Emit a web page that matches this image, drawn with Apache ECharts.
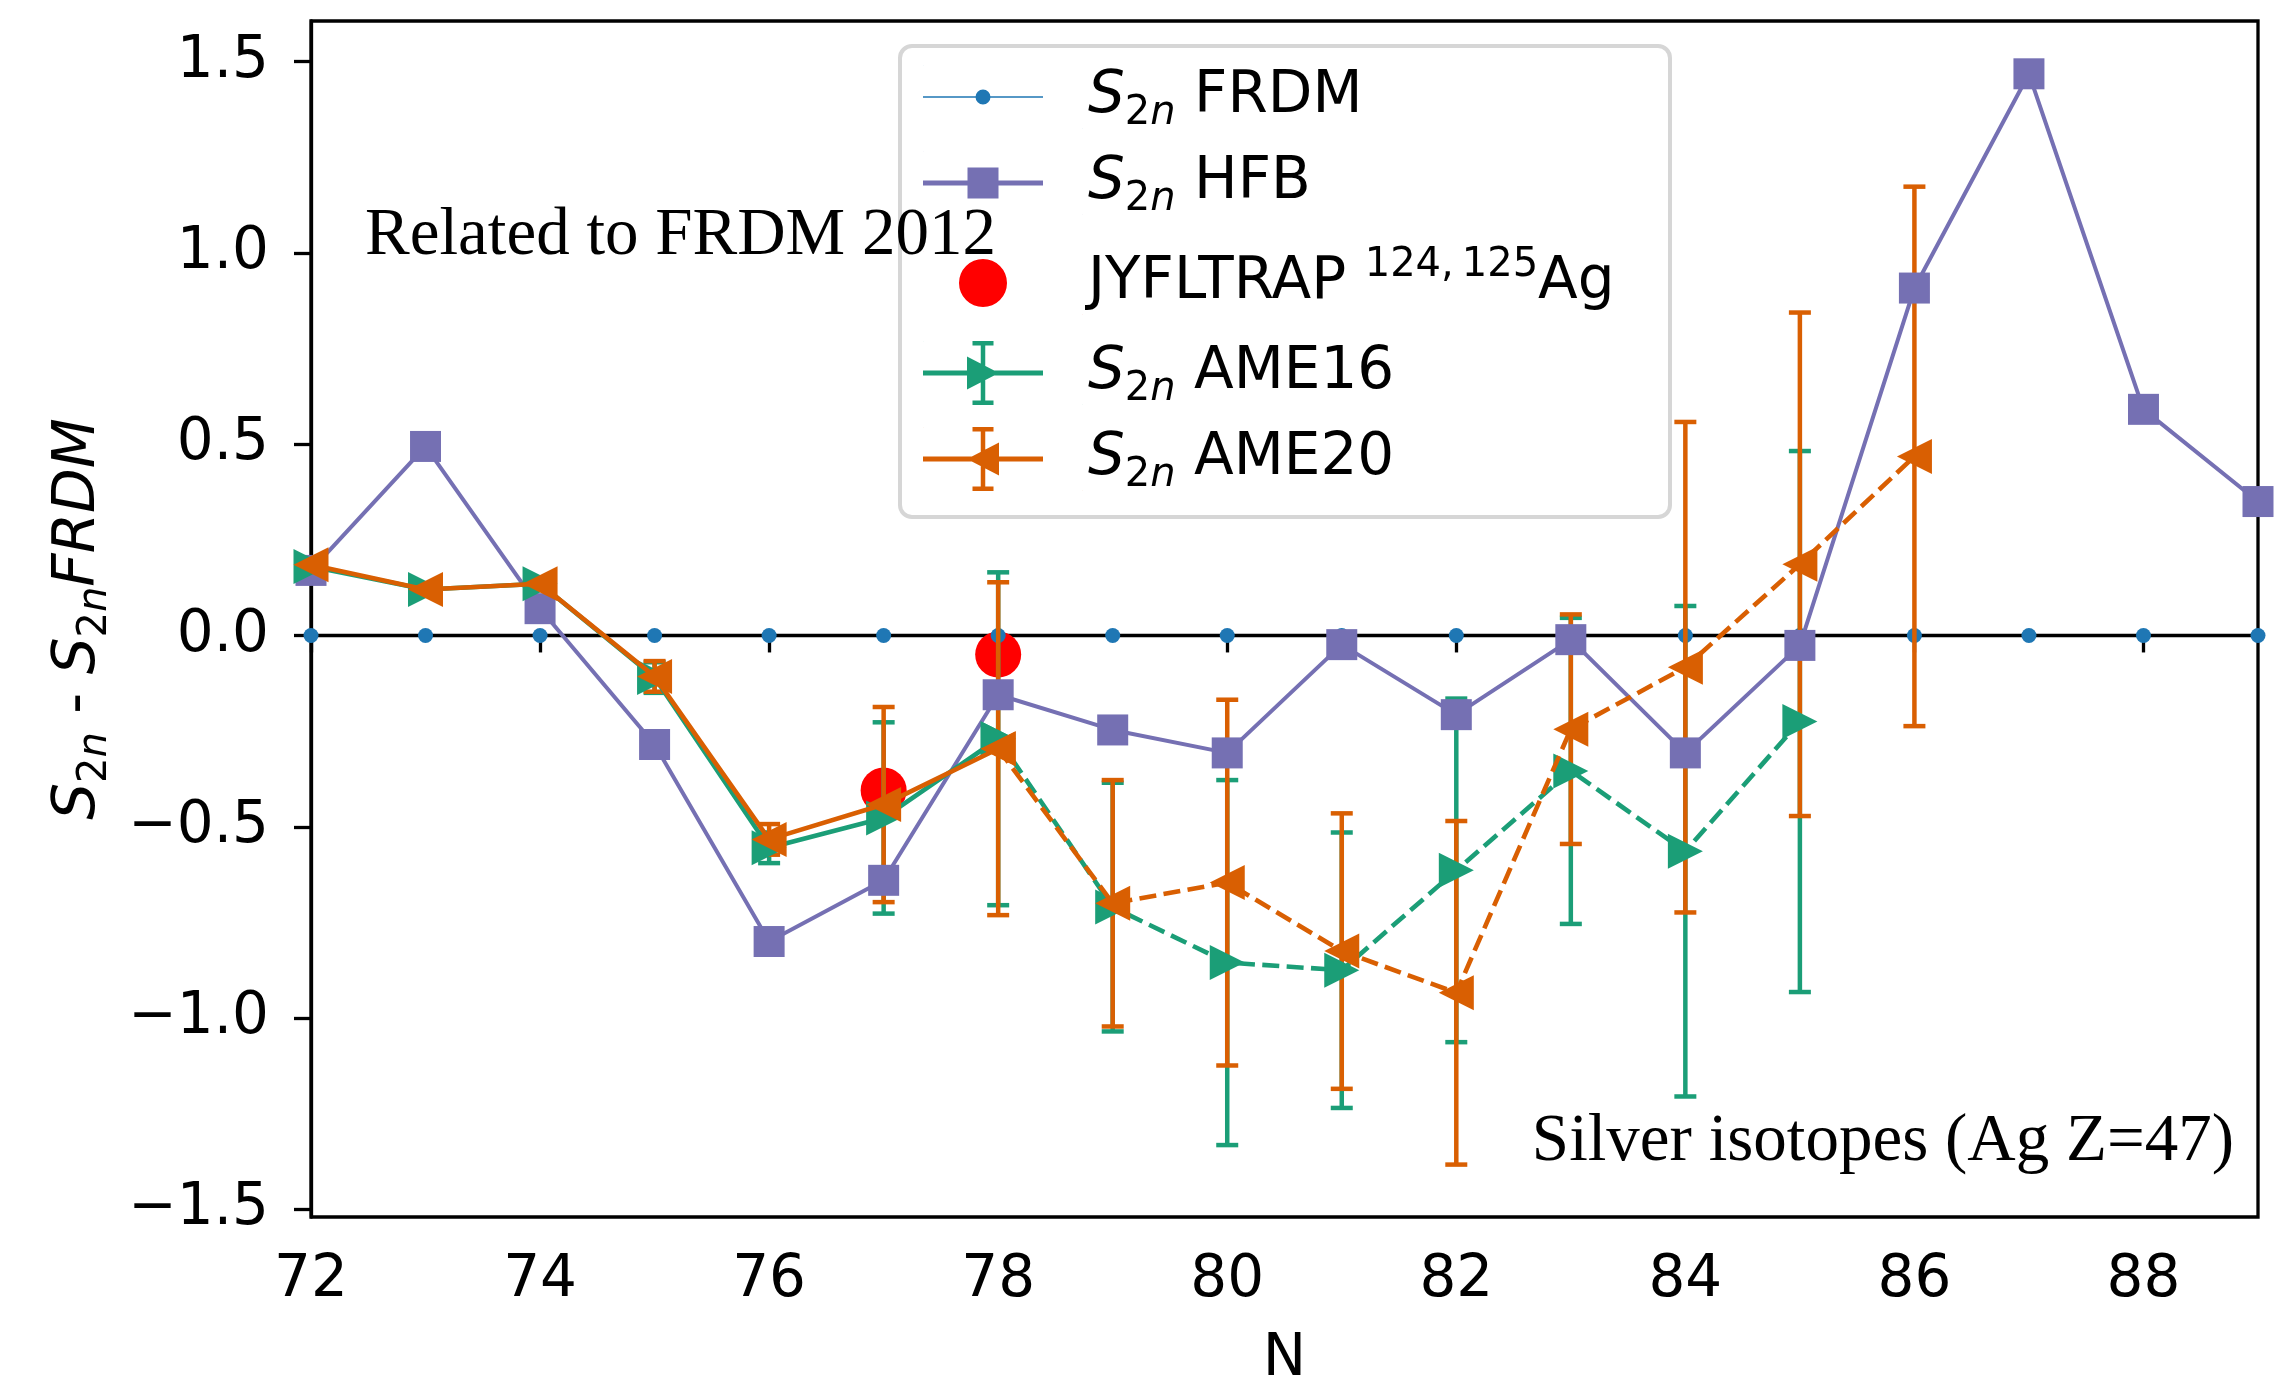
<!DOCTYPE html>
<html>
<head>
<meta charset="utf-8">
<script src="https://cdn.jsdelivr.net/npm/echarts@6/dist/echarts.min.js"></script>
<style>
  html, body { margin: 0; padding: 0; background: #ffffff; }
  #chart { width: 2278px; height: 1384px; }
</style>
</head>
<body>
<div id="chart"></div>
<script>
// Two-neutron separation energies of silver isotopes, relative to FRDM 2012 (MeV)

// FRDM reference (zero by construction) and HFB model
const frdmN = [72, 73, 74, 75, 76, 77, 78, 79, 80, 81, 82, 83, 84, 85, 86, 87, 88, 89];
const frdmDiff = [0, 0, 0, 0, 0, 0, 0, 0, 0, 0, 0, 0, 0, 0, 0, 0, 0, 0];
const hfbN = [72, 73, 74, 75, 76, 77, 78, 79, 80, 81, 82, 83, 84, 85, 86, 87, 88, 89];
const hfbDiff = [0.17, 0.494, 0.07, -0.285, -0.80, -0.64, -0.155, -0.247, -0.307, -0.024,
                 -0.207, -0.011, -0.307, -0.026, 0.908, 1.468, 0.591, 0.35];

// JYFLTRAP results for 124,125Ag
const jyfltrapN = [77, 78];
const jyfltrapDiff = [-0.405, -0.05];

// AME16 values and uncertainties
const ame16N = [72, 73, 74, 75, 76, 77, 78, 79, 80, 81, 82, 83, 84, 85];
const ame16Diff = [0.18, 0.12, 0.135, -0.11, -0.555, -0.477, -0.27, -0.71, -0.855, -0.875,
                   -0.614, -0.354, -0.564, -0.225];
const ame16Err = [0.005, 0.005, 0.005, 0.04, 0.04, 0.25, 0.435, 0.325, 0.477, 0.36,
                  0.449, 0.40, 0.641, 0.707];

// AME20 values and uncertainties
const ame20N = [72, 73, 74, 75, 76, 77, 78, 79, 80, 81, 82, 83, 84, 85, 86];
const ame20Diff = [0.185, 0.12, 0.135, -0.107, -0.533, -0.442, -0.296, -0.70, -0.646, -0.825,
                   -0.934, -0.245, -0.083, 0.186, 0.468];
const ame20Err = [0.005, 0.005, 0.005, 0.04, 0.04, 0.255, 0.435, 0.322, 0.478, 0.36,
                  0.449, 0.30, 0.641, 0.658, 0.705];

// measured values end here; beyond it the evaluation values are extrapolated (dashed)
const lastMeasuredN = 78;

// axis ticks
const xTicks = [72, 74, 76, 78, 80, 82, 84, 86, 88];
const yTicks = [-1.5, -1.0, -0.5, 0.0, 0.5, 1.0, 1.5];

const FONT = 'DejaVu Sans';
const SERIF = 'Liberation Serif';
const C_FRDM = '#1f77b4', C_HFB = '#7570b3', C_JYFL = '#ff0000', C_A16 = '#1b9e77', C_A20 = '#d95f02';

const pairs = (xs, ys) => xs.map((x, i) => [x, ys[i]]);
const triples = (xs, ys, es) => xs.map((x, i) => [x, ys[i], es[i]]);

// vertical error bars with caps
function errorBars(color) {
  return function (params, api) {
    const x = api.value(0), y = api.value(1), e = api.value(2);
    const hi = api.coord([x, y + e]);
    const lo = api.coord([x, y - e]);
    const hw = 11;
    const style = { stroke: color, lineWidth: 4.5, fill: null };
    return {
      type: 'group',
      children: [
        { type: 'line', shape: { x1: hi[0], y1: hi[1], x2: lo[0], y2: lo[1] }, style: style },
        { type: 'line', shape: { x1: hi[0] - hw, y1: hi[1], x2: hi[0] + hw, y2: hi[1] }, style: style },
        { type: 'line', shape: { x1: lo[0] - hw, y1: lo[1], x2: lo[0] + hw, y2: lo[1] }, style: style }
      ]
    };
  };
}

// legend glyphs (160 x 64 box, visible part in the left 120)
const CORNERS = 'M0 0h0.2v0.2h-0.2Z M159.8 63.8h0.2v0.2h-0.2Z ';
const THIN_LINE = 'M0 31.2H120V32.8H0Z ';
const THICK_LINE = 'M0 29.5H120V34.5H0Z ';
const circ = (cx, cy, r) => `M${cx + r} ${cy}A${r} ${r} 0 1 1 ${cx - r} ${cy}A${r} ${r} 0 1 1 ${cx + r} ${cy}Z `;
const ERRBAR = 'M57.75 0H62.25V64H57.75Z M49.5 0H70.5V4.5H49.5Z M49.5 59.5H70.5V64H49.5Z ';
const iconFrdm = 'path://' + CORNERS + THIN_LINE + circ(60, 32, 7.5);
const iconHfb = 'path://' + CORNERS + THICK_LINE + 'M44.5 16.5H75.5V47.5H44.5Z';
const iconJyfl = 'path://' + CORNERS + circ(60, 32, 24);
const iconA16 = 'path://' + CORNERS + THICK_LINE + ERRBAR + 'M44 15.5L76 32L44 48.5Z';
const iconA20 = 'path://' + CORNERS + THICK_LINE + ERRBAR + 'M76 15.5L76 48.5L44 32Z';

const TRI_RIGHT = 'path://M0 0L1 0.5L0 1Z';
const TRI_LEFT = 'path://M1 0L1 1L0 0.5Z';

// rich text styles for sub/superscripts
const rich = {
  t: { fontFamily: FONT, fontSize: 58, lineHeight: 64, color: '#000' },
  i: { fontFamily: FONT, fontSize: 58, lineHeight: 64, fontStyle: 'italic', color: '#000' },
  s: { fontFamily: FONT, fontSize: 40, lineHeight: 30, padding: [34, 0, 0, 0], color: '#000' },
  si: { fontFamily: FONT, fontSize: 40, lineHeight: 30, padding: [34, 0, 0, 0], fontStyle: 'italic', color: '#000' },
  p: { fontFamily: FONT, fontSize: 40, lineHeight: 30, padding: [0, 0, 34, 0], color: '#000' }
};
const S2N = '{i|S}{s|2}{si|n}';
const legendLabels = {
  'FRDM': S2N + '{t| FRDM}',
  'HFB': S2N + '{t| HFB}',
  'JYFLTRAP': '{t|JYFLTRAP }{p|124,\u2009125}{t|Ag}',
  'AME16': S2N + '{t| AME16}',
  'AME20': S2N + '{t| AME20}'
};

function legendBlock(top, items) {
  return {
    orient: 'vertical', left: 923, top: top, padding: 0, itemGap: 12,
    itemWidth: 160, itemHeight: 64, selectedMode: false, z: 20,
    itemStyle: { borderWidth: 0 },
    data: items,
    formatter: name => legendLabels[name],
    textStyle: { fontFamily: FONT, fontSize: 58, color: '#000', rich: rich }
  };
}

const chart = echarts.init(document.getElementById('chart'), null, { renderer: 'canvas' });

const measured16 = triples(ame16N, ame16Diff, ame16Err);
const measured20 = triples(ame20N, ame20Diff, ame20Err);

chart.setOption({
  animation: false,
  backgroundColor: '#ffffff',
  grid: {
    left: 311, right: 20, top: 21, bottom: 167,
    outerBoundsMode: 'none', containLabel: false,
    show: true, borderColor: '#000', borderWidth: 3.3, backgroundColor: 'transparent'
  },
  xAxis: {
    type: 'value', min: 72, max: 89,
    name: 'N', nameLocation: 'middle', nameGap: 114,
    nameTextStyle: { fontFamily: FONT, fontSize: 58, color: '#000' },
    axisLine: { lineStyle: { color: '#000', width: 3.3 } },
    axisTick: { show: true, length: 17, lineStyle: { color: '#000', width: 3.3 }, customValues: xTicks },
    axisLabel: { customValues: xTicks, margin: 35, fontFamily: FONT, fontSize: 58, color: '#000' },
    splitLine: { show: false }
  },
  yAxis: {
    type: 'value', min: -1.52, max: 1.606,
    name: S2N + '{t| - }' + S2N + '{i|FRDM}',
    nameLocation: 'middle', nameGap: 200,
    nameTextStyle: { fontFamily: FONT, fontSize: 58, color: '#000', rich: rich },
    axisLine: { lineStyle: { color: '#000', width: 3.3 } },
    axisTick: { show: true, length: 17, lineStyle: { color: '#000', width: 3.3 }, customValues: yTicks },
    axisLabel: {
      customValues: yTicks, margin: 42, fontFamily: FONT, fontSize: 58, color: '#000',
      formatter: v => (v < 0 ? '\u2212' : '') + Math.abs(v).toFixed(1)
    },
    splitLine: { show: false }
  },
  legend: [
    legendBlock(60, [{ name: 'FRDM', icon: iconFrdm }, { name: 'HFB', icon: iconHfb }]),
    legendBlock(246, [{ name: 'JYFLTRAP', icon: iconJyfl }]),
    legendBlock(336, [{ name: 'AME16', icon: iconA16 }, { name: 'AME20', icon: iconA20 }])
  ],
  graphic: [
    {
      type: 'rect', z: 15, silent: true,
      shape: { x: 900, y: 46, width: 770, height: 471, r: 12 },
      style: { fill: '#ffffff', stroke: '#d6d6d6', lineWidth: 4 }
    },
    {
      type: 'text', z: 30, silent: true, x: 365, y: 236,
      style: { text: 'Related to FRDM 2012', fontFamily: SERIF, fontSize: 67, fill: '#000',
               align: 'left', verticalAlign: 'middle' }
    },
    {
      type: 'text', z: 30, silent: true, x: 2234, y: 1142,
      style: { text: 'Silver isotopes (Ag Z=47)', fontFamily: SERIF, fontSize: 67, fill: '#000',
               align: 'right', verticalAlign: 'middle' }
    }
  ],
  series: [
    {
      name: 'FRDM', type: 'line', z: 4,
      data: pairs(frdmN, frdmDiff),
      symbol: 'circle', symbolSize: 15,
      itemStyle: { color: C_FRDM, opacity: 1 },
      // the connecting line lies under the black zero line
      lineStyle: { color: C_FRDM, width: 1.5, opacity: 0 },
      markLine: {
        silent: true, symbol: 'none', z: 2, label: { show: false },
        lineStyle: { color: '#000', width: 2.7, type: 'solid' },
        data: [{ yAxis: 0 }]
      }
    },
    {
      name: 'JYFLTRAP', type: 'scatter', z: 3,
      data: pairs(jyfltrapN, jyfltrapDiff),
      symbol: 'circle', symbolSize: 46,
      itemStyle: { color: C_JYFL, opacity: 1 }
    },
    {
      name: 'AME16', type: 'custom', z: 5,
      renderItem: errorBars(C_A16),
      itemStyle: { color: C_A16 },
      encode: { x: 0, y: 1 },
      data: measured16
    },
    {
      name: 'AME20', type: 'custom', z: 6,
      renderItem: errorBars(C_A20),
      itemStyle: { color: C_A20 },
      encode: { x: 0, y: 1 },
      data: measured20
    },
    {
      name: 'HFB', type: 'line', z: 7,
      data: pairs(hfbN, hfbDiff),
      symbol: 'rect', symbolSize: 31,
      itemStyle: { color: C_HFB, opacity: 1 },
      lineStyle: { color: C_HFB, width: 4 }
    },
    {
      name: 'AME16', type: 'line', z: 8,
      data: pairs(ame16N, ame16Diff).filter(p => p[0] <= lastMeasuredN),
      symbol: TRI_RIGHT, symbolSize: [35, 35],
      itemStyle: { color: C_A16, opacity: 1 },
      lineStyle: { color: C_A16, width: 4.6 }
    },
    {
      name: 'AME16', type: 'line', z: 8,
      data: pairs(ame16N, ame16Diff).filter(p => p[0] >= lastMeasuredN),
      symbol: TRI_RIGHT, symbolSize: [35, 35],
      itemStyle: { color: C_A16, opacity: 1 },
      lineStyle: { color: C_A16, width: 4.6, type: [17, 7.4] }
    },
    {
      name: 'AME20', type: 'line', z: 9,
      data: pairs(ame20N, ame20Diff).filter(p => p[0] <= lastMeasuredN),
      symbol: TRI_LEFT, symbolSize: [35, 35],
      itemStyle: { color: C_A20, opacity: 1 },
      lineStyle: { color: C_A20, width: 4.6 }
    },
    {
      name: 'AME20', type: 'line', z: 9,
      data: pairs(ame20N, ame20Diff).filter(p => p[0] >= lastMeasuredN),
      symbol: TRI_LEFT, symbolSize: [35, 35],
      itemStyle: { color: C_A20, opacity: 1 },
      lineStyle: { color: C_A20, width: 4.6, type: [17, 7.4] }
    }
  ]
});
</script>
</body>
</html>
